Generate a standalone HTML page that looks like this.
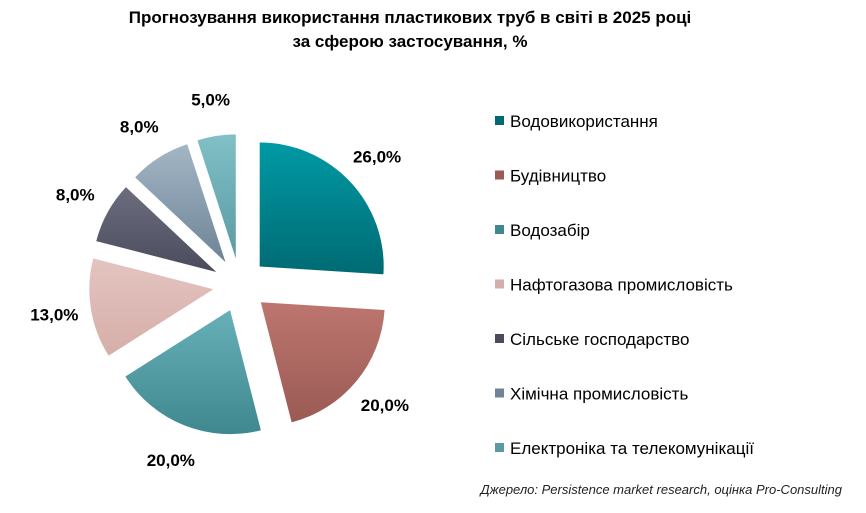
<!DOCTYPE html>
<html><head><meta charset="utf-8"><style>
body{margin:0;width:866px;height:508px;background:#fff;font-family:"Liberation Sans",sans-serif;overflow:hidden}
</style></head><body>
<svg width="866" height="508">
<defs id="defs"></defs>
<text x="410" y="23" text-anchor="middle" font-weight="bold" font-size="17">Прогнозування використання пластикових труб в світі в 2025 році</text>
<text x="410" y="47" text-anchor="middle" font-weight="bold" font-size="17">за сферою застосування, %</text>
<g id="slices"></g><g id="labels"></g><g id="legend"></g>
<text x="842" y="494" text-anchor="end" font-style="italic" font-size="13" fill="#222">Джерело: Persistence market research, оцінка Pro-Consulting</text>
</svg>
<script>
const categories=["Водовикористання","Будівництво","Водозабір","Нафтогазова промисловість","Сільське господарство","Хімічна промисловість","Електроніка та телекомунікації"];
const values=[26,20,20,13,8,8,5];
const labels=["26,0%","20,0%","20,0%","13,0%","8,0%","8,0%","5,0%"];
const topC=["#009aa5","#bd766f","#68b0b8","#e4c4c0","#6c6e80","#a3b6c6","#82c0c8"];
const botC=["#006a73","#9a5a54","#3f8890","#d6aea9","#4a4c5c","#6e8496","#5a9aa2"];
const NS="http://www.w3.org/2000/svg";
const cx=240,cy=285,r=124,ex=27,lr=188;
const defs=document.getElementById('defs'),sg=document.getElementById('slices'),lg=document.getElementById('labels'),leg=document.getElementById('legend');
const total=values.reduce((a,b)=>a+b,0);
let a0=0;
values.forEach((v,i)=>{
 const a1=a0+v/total*2*Math.PI,m=(a0+a1)/2;
 const ox=cx+ex*Math.sin(m),oy=cy-ex*Math.cos(m);
 const g=document.createElementNS(NS,'linearGradient');g.id='g'+i;g.setAttribute('x1','0');g.setAttribute('y1','0');g.setAttribute('x2','0');g.setAttribute('y2','1');
 g.innerHTML=`<stop offset="0" stop-color="${topC[i]}"/><stop offset="1" stop-color="${botC[i]}"/>`;defs.appendChild(g);
 const p=document.createElementNS(NS,'path');
 const x0=ox+r*Math.sin(a0),y0=oy-r*Math.cos(a0),x1=ox+r*Math.sin(a1),y1=oy-r*Math.cos(a1);
 p.setAttribute('d',`M${ox},${oy}L${x0},${y0}A${r},${r} 0 ${a1-a0>Math.PI?1:0} 1 ${x1},${y1}Z`);
 p.setAttribute('fill',`url(#g${i})`);
 
 
 sg.appendChild(p);
 const t=document.createElementNS(NS,'text');
 t.setAttribute('x',cx+lr*Math.sin(m));t.setAttribute('y',cy-lr*Math.cos(m)+6);
 t.setAttribute('text-anchor','middle');t.setAttribute('font-weight','bold');t.setAttribute('font-size','17');
 t.textContent=labels[i];
 
 
 lg.appendChild(t);
 const y=121+i*54.5;
 const s=document.createElementNS(NS,'rect');s.setAttribute('x',495);s.setAttribute('y',y-5);s.setAttribute('width',9);s.setAttribute('height',9);s.setAttribute('fill',botC[i]);
 
 
 leg.appendChild(s);
 const lt=document.createElementNS(NS,'text');lt.setAttribute('x',510);lt.setAttribute('y',y+6);lt.setAttribute('font-size','17');lt.textContent=categories[i];
 
 
 leg.appendChild(lt);
 a0=a1;
});
</script>
</body></html>
